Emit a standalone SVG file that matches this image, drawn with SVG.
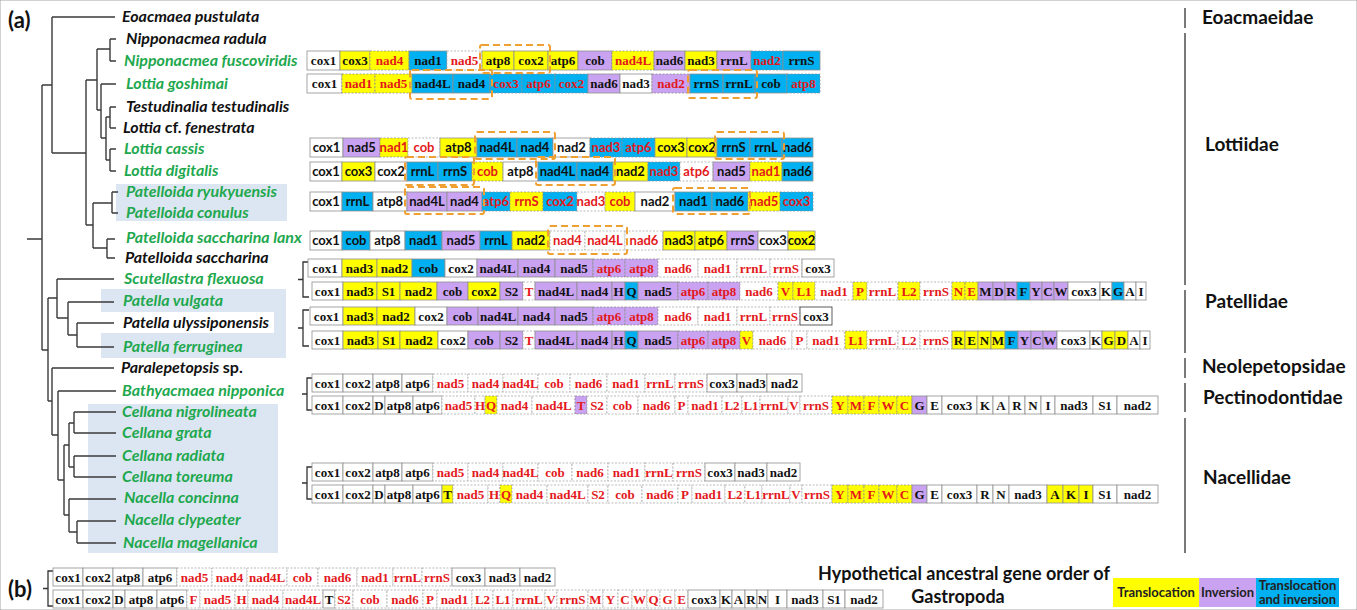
<svg xmlns="http://www.w3.org/2000/svg" width="1357" height="610" viewBox="0 0 1357 610">
<style>
.tree path{fill:none;stroke:#3a3a3a;stroke-width:1.4}
.tx{font-family:Lato,"Liberation Sans",sans-serif;font-weight:700;font-style:italic;font-size:16px}
.g{fill:#1ea84e}
.k{fill:#111}
.up{font-style:normal}
.fam{font-family:Lato,"Liberation Sans",sans-serif;font-weight:700;font-size:19px;fill:#111}
.lab{font-family:Lato,"Liberation Sans",sans-serif;font-weight:700;font-size:22px;fill:#111}
.gs text{font-family:"Liberation Serif",serif;font-weight:700;font-size:13px;text-anchor:middle;fill:#111}
.gn text{font-family:Lato,"Liberation Sans",sans-serif;font-weight:700;font-size:13px;text-anchor:middle;fill:#111}
text.r{fill:#e3191c}
rect{stroke:#8f8f8f;stroke-width:0.8}
rect.w{fill:#fff}
rect.d{fill:#fff;stroke:#aaa;stroke-dasharray:2 1.5}
rect.y{fill:#ffff00}
rect.p{fill:#c9a2f2}
rect.b{fill:#00b0f0}
rect.z{stroke-dasharray:2 1.5}
.ob{fill:none;stroke:#f0a030;stroke-width:2;stroke-dasharray:7 4}
.hl{fill:#dce6f2;stroke:none}
.hw{fill:#fff;stroke:none}
.br{fill:none;stroke:#333;stroke-width:1.3}
.sep{stroke:#333;stroke-width:1.3}
.hd{font-family:Lato,"Liberation Sans",sans-serif;font-weight:700;font-size:18px;fill:#111}
.lg text{font-family:Lato,"Liberation Sans",sans-serif;font-weight:700;font-size:13px;fill:#222;text-anchor:middle}
.lg rect{stroke:none}
</style>

<rect x="0" y="0" width="1357" height="610" fill="#fff" stroke="none"/>

<!-- shaded clades behind the taxon names -->
<g id="highlights">
  <rect class="hl" x="116" y="184" width="171" height="37"/>
  <rect class="hl" x="101" y="289" width="185" height="69"/>
  <rect class="hw" x="101" y="312" width="173" height="21"/>
  <rect class="hl" x="88" y="404" width="190" height="149"/>
</g>

<text class="lab" x="8" y="28">(a)</text>
<text class="lab" x="8" y="597">(b)</text>

<!-- phylogeny branches -->
<g id="connectors" class="tree">
  <path d="M27 239H42M42 85V350M42 85H52M42 350H48"/>
  <path d="M52 17V153M52 17H115M52 153H86"/>
  <path d="M86 80V225M86 80H97M86 225H93"/>
  <path d="M97 49V110M97 49H110M97 110H101"/>
  <path d="M110 39V61M110 39H116M110 61H116"/>
  <path d="M101 84V138M101 84H116M101 138H106"/>
  <path d="M106 117V160M106 117H110M106 160H110"/>
  <path d="M110 107V128M110 107H116M110 128H116"/>
  <path d="M110 149V171M110 149H116M110 171H116"/>
  <path d="M93 203V248M93 203H112M93 248H107"/>
  <path d="M112 192V213M112 192H118M112 213H118"/>
  <path d="M107 239V258M107 239H115M107 258H115"/>
  <path d="M48 298V401M48 298H57M48 401H52"/>
  <path d="M57 279V318M57 279H114M57 318H68"/>
  <path d="M68 302V335M68 302H114M68 335H77"/>
  <path d="M77 323V347M77 323H114M77 347H114"/>
  <path d="M52 368V435M52 368H114M52 435H58"/>
  <path d="M58 391V480M58 391H116M58 480H64"/>
  <path d="M64 445V515M64 445H69M64 515H69"/>
  <path d="M69 423V467M69 423H74M69 467H74"/>
  <path d="M74 412V433M74 412H116M74 433H116"/>
  <path d="M74 456V477M74 456H116M74 477H116"/>
  <path d="M69 499V532M69 499H116M69 532H77"/>
  <path d="M77 521V543M77 521H116M77 543H116"/>
</g>

<!-- taxa -->
<g id="taxa" class="tx">
  <g id="t-eoacmaea-pustulata"><text class="k" x="122" y="22">Eoacmaea pustulata</text></g>
  <g id="t-nipponacmea-radula"><text class="k" x="126" y="44">Nipponacmea radula</text></g>
  <g id="t-nipponacmea-fuscoviridis"><text class="g" x="124" y="66">Nipponacmea fuscoviridis</text></g>
  <g id="t-lottia-goshimai"><text class="g" x="126" y="89">Lottia goshimai</text></g>
  <g id="t-testudinalia-testudinalis"><text class="k" x="126" y="112">Testudinalia testudinalis</text></g>
  <g id="t-lottia-fenestrata"><text class="k" x="123" y="133">Lottia <tspan class="up">cf.</tspan> fenestrata</text></g>
  <g id="t-lottia-cassis"><text class="g" x="124" y="154">Lottia cassis</text></g>
  <g id="t-lottia-digitalis"><text class="g" x="124" y="176">Lottia digitalis</text></g>
  <g id="t-patelloida-ryukyuensis"><text class="g" x="126" y="197">Patelloida ryukyuensis</text></g>
  <g id="t-patelloida-conulus"><text class="g" x="126" y="218">Patelloida conulus</text></g>
  <g id="t-patelloida-saccharina-lanx"><text class="g" x="126" y="243">Patelloida saccharina lanx</text></g>
  <g id="t-patelloida-saccharina"><text class="k" x="125" y="263">Patelloida saccharina</text></g>
  <g id="t-scutellastra-flexuosa"><text class="g" x="124" y="284">Scutellastra flexuosa</text></g>
  <g id="t-patella-vulgata"><text class="g" x="123" y="306">Patella vulgata</text></g>
  <g id="t-patella-ulyssiponensis"><text class="k" x="123" y="328">Patella ulyssiponensis</text></g>
  <g id="t-patella-ferruginea"><text class="g" x="123" y="352">Patella ferruginea</text></g>
  <g id="t-paralepetopsis"><text class="k" x="121" y="373">Paralepetopsis <tspan class="up">sp.</tspan></text></g>
  <g id="t-bathyacmaea-nipponica"><text class="g" x="122" y="396">Bathyacmaea nipponica</text></g>
  <g id="t-cellana-nigrolineata"><text class="g" x="122" y="417">Cellana nigrolineata</text></g>
  <g id="t-cellana-grata"><text class="g" x="122" y="438">Cellana grata</text></g>
  <g id="t-cellana-radiata"><text class="g" x="122" y="461">Cellana radiata</text></g>
  <g id="t-cellana-toreuma"><text class="g" x="122" y="482">Cellana toreuma</text></g>
  <g id="t-nacella-concinna"><text class="g" x="124" y="503">Nacella concinna</text></g>
  <g id="t-nacella-clypeater"><text class="g" x="124" y="525">Nacella clypeater</text></g>
  <g id="t-nacella-magellanica"><text class="g" x="123" y="548">Nacella magellanica</text></g>
</g>

<!-- Lottiidae gene orders -->
<g id="go-nipponacmea-fuscoviridis" class="gs" transform="translate(0,51)">
  <rect class="w" x="307" width="33" height="19"/><text x="323.5" y="14">cox1</text>
  <rect class="y" x="340" width="30" height="19"/><text x="355" y="14">cox3</text>
  <rect class="y z" x="370" width="39" height="19"/><text class="r" x="389.5" y="14">nad4</text>
  <rect class="b" x="409" width="38" height="19"/><text x="428" y="14">nad1</text>
  <rect class="d" x="447" width="35" height="19"/><text class="r" x="464.5" y="14">nad5</text>
  <rect class="y" x="482" width="32" height="19"/><text x="498" y="14">atp8</text>
  <rect class="y" x="514" width="34" height="19"/><text x="531" y="14">cox2</text>
  <rect class="y" x="548" width="30" height="19"/><text x="563" y="14">atp6</text>
  <rect class="p" x="578" width="34" height="19"/><text x="595" y="14">cob</text>
  <rect class="y z" x="612" width="42" height="19"/><text class="r" x="633" y="14">nad4L</text>
  <rect class="p" x="654" width="31" height="19"/><text x="669.5" y="14">nad6</text>
  <rect class="y" x="685" width="32" height="19"/><text x="701" y="14">nad3</text>
  <rect class="p" x="717" width="34" height="19"/><text x="734" y="14">rrnL</text>
  <rect class="b z" x="751" width="32" height="19"/><text class="r" x="767" y="14">nad2</text>
  <rect class="b" x="783" width="37" height="19"/><text x="801.5" y="14">rrnS</text>
</g>
<g id="go-lottia-goshimai" class="gs" transform="translate(0,74)">
  <rect class="w" x="307" width="35" height="19"/><text x="324.5" y="14">cox1</text>
  <rect class="y z" x="342" width="33" height="19"/><text class="r" x="358.5" y="14">nad1</text>
  <rect class="y z" x="375" width="37" height="19"/><text class="r" x="393.5" y="14">nad5</text>
  <rect class="b" x="412" width="41" height="19"/><text x="432.5" y="14">nad4L</text>
  <rect class="b" x="453" width="37" height="19"/><text x="471.5" y="14">nad4</text>
  <rect class="b z" x="490" width="32" height="19"/><text class="r" x="506" y="14">cox3</text>
  <rect class="b z" x="522" width="33" height="19"/><text class="r" x="538.5" y="14">atp6</text>
  <rect class="b z" x="555" width="33" height="19"/><text class="r" x="571.5" y="14">cox2</text>
  <rect class="p" x="588" width="32" height="19"/><text x="604" y="14">nad6</text>
  <rect class="w" x="620" width="32" height="19"/><text x="636" y="14">nad3</text>
  <rect class="p z" x="652" width="38" height="19"/><text class="r" x="671" y="14">nad2</text>
  <rect class="b" x="690" width="33" height="19"/><text x="706.5" y="14">rrnS</text>
  <rect class="b" x="723" width="32" height="19"/><text x="739" y="14">rrnL</text>
  <rect class="b" x="755" width="32" height="19"/><text x="771" y="14">cob</text>
  <rect class="b z" x="787" width="33" height="19"/><text class="r" x="803.5" y="14">atp8</text>
</g>
<g id="go-lottia-cassis" class="gn" transform="translate(0,138)">
  <rect class="w" x="310" width="33" height="19"/><text x="326.5" y="14">cox1</text>
  <rect class="p" x="343" width="37" height="19"/><text x="361.5" y="14">nad5</text>
  <rect class="y z" x="380" width="28" height="19"/><text class="r" x="394" y="14">nad1</text>
  <rect class="d" x="408" width="32" height="19"/><text class="r" x="424" y="14">cob</text>
  <rect class="y" x="440" width="37" height="19"/><text x="458.5" y="14">atp8</text>
  <rect class="b" x="477" width="40" height="19"/><text x="497" y="14">nad4L</text>
  <rect class="b" x="517" width="36" height="19"/><text x="535" y="14">nad4</text>
  <rect class="w" x="553" width="37" height="19"/><text x="571.5" y="14">nad2</text>
  <rect class="b z" x="590" width="32" height="19"/><text class="r" x="606" y="14">nad3</text>
  <rect class="b z" x="622" width="33" height="19"/><text class="r" x="638.5" y="14">atp6</text>
  <rect class="y" x="655" width="32" height="19"/><text x="671" y="14">cox3</text>
  <rect class="y" x="687" width="30" height="19"/><text x="702" y="14">cox2</text>
  <rect class="b" x="717" width="33" height="19"/><text x="733.5" y="14">rrnS</text>
  <rect class="b" x="750" width="32" height="19"/><text x="766" y="14">rrnL</text>
  <rect class="b" x="782" width="31" height="19"/><text x="797.5" y="14">nad6</text>
</g>
<g id="go-lottia-digitalis" class="gn" transform="translate(0,162)">
  <rect class="w" x="310" width="32" height="19"/><text x="326" y="14">cox1</text>
  <rect class="y" x="342" width="33" height="19"/><text x="358.5" y="14">cox3</text>
  <rect class="w" x="375" width="32" height="19"/><text x="391" y="14">cox2</text>
  <rect class="b" x="407" width="31" height="19"/><text x="422.5" y="14">rrnL</text>
  <rect class="b" x="438" width="34" height="19"/><text x="455" y="14">rrnS</text>
  <rect class="y z" x="472" width="31" height="19"/><text class="r" x="487.5" y="14">cob</text>
  <rect class="w" x="503" width="35" height="19"/><text x="520.5" y="14">atp8</text>
  <rect class="b" x="538" width="39" height="19"/><text x="557.5" y="14">nad4L</text>
  <rect class="b" x="577" width="36" height="19"/><text x="595" y="14">nad4</text>
  <rect class="y" x="613" width="35" height="19"/><text x="630.5" y="14">nad2</text>
  <rect class="b z" x="648" width="32" height="19"/><text class="r" x="664" y="14">nad3</text>
  <rect class="d" x="680" width="33" height="19"/><text class="r" x="696.5" y="14">atp6</text>
  <rect class="p" x="713" width="37" height="19"/><text x="731.5" y="14">nad5</text>
  <rect class="y z" x="750" width="32" height="19"/><text class="r" x="766" y="14">nad1</text>
  <rect class="b" x="782" width="31" height="19"/><text x="797.5" y="14">nad6</text>
</g>
<g id="go-patelloida-ryukyuensis" class="gn" transform="translate(0,192)">
  <rect class="w" x="310" width="32" height="19"/><text x="326" y="14">cox1</text>
  <rect class="b" x="342" width="31" height="19"/><text x="357.5" y="14">rrnL</text>
  <rect class="w" x="373" width="34" height="19"/><text x="390" y="14">atp8</text>
  <rect class="p" x="407" width="40" height="19"/><text x="427" y="14">nad4L</text>
  <rect class="p" x="447" width="35" height="19"/><text x="464.5" y="14">nad4</text>
  <rect class="b z" x="482" width="28" height="19"/><text class="r" x="496" y="14">atp6</text>
  <rect class="y z" x="510" width="33" height="19"/><text class="r" x="526.5" y="14">rrnS</text>
  <rect class="b z" x="543" width="34" height="19"/><text class="r" x="560" y="14">cox2</text>
  <rect class="d" x="577" width="28" height="19"/><text class="r" x="591" y="14">nad3</text>
  <rect class="y z" x="605" width="30" height="19"/><text class="r" x="620" y="14">cob</text>
  <rect class="w" x="635" width="40" height="19"/><text x="655" y="14">nad2</text>
  <rect class="b" x="675" width="37" height="19"/><text x="693.5" y="14">nad1</text>
  <rect class="b" x="712" width="36" height="19"/><text x="730" y="14">nad6</text>
  <rect class="y z" x="748" width="32" height="19"/><text class="r" x="764" y="14">nad5</text>
  <rect class="b z" x="780" width="33" height="19"/><text class="r" x="796.5" y="14">cox3</text>
</g>
<g id="go-patelloida-saccharina-lanx" class="gn" transform="translate(0,231)">
  <rect class="w" x="310" width="32" height="19"/><text x="326" y="14">cox1</text>
  <rect class="b" x="342" width="28" height="19"/><text x="356" y="14">cob</text>
  <rect class="w" x="370" width="35" height="19"/><text x="387.5" y="14">atp8</text>
  <rect class="b" x="405" width="37" height="19"/><text x="423.5" y="14">nad1</text>
  <rect class="p" x="442" width="38" height="19"/><text x="461" y="14">nad5</text>
  <rect class="b" x="480" width="32" height="19"/><text x="496" y="14">rrnL</text>
  <rect class="y" x="512" width="38" height="19"/><text x="531" y="14">nad2</text>
  <rect class="d" x="550" width="35" height="19"/><text class="r" x="567.5" y="14">nad4</text>
  <rect class="d" x="585" width="40" height="19"/><text class="r" x="605" y="14">nad4L</text>
  <rect class="d" x="625" width="38" height="19"/><text class="r" x="644" y="14">nad6</text>
  <rect class="y" x="663" width="32" height="19"/><text x="679" y="14">nad3</text>
  <rect class="y" x="695" width="32" height="19"/><text x="711" y="14">atp6</text>
  <rect class="p" x="727" width="31" height="19"/><text x="742.5" y="14">rrnS</text>
  <rect class="w" x="758" width="30" height="19"/><text x="773" y="14">cox3</text>
  <rect class="y" x="788" width="27" height="19"/><text x="801.5" y="14">cox2</text>
</g>

<!-- rearranged blocks -->
<g id="moved-blocks">
  <rect class="ob" x="480" y="45" width="70" height="28" rx="2"/>
  <rect class="ob" x="410" y="70" width="82" height="29" rx="2"/>
  <rect class="ob" x="688" y="70" width="69" height="28" rx="2"/>
  <rect class="ob" x="475" y="132" width="80" height="27" rx="2"/>
  <rect class="ob" x="715" y="132" width="69" height="27" rx="2"/>
  <rect class="ob" x="405" y="157" width="69" height="28" rx="2"/>
  <rect class="ob" x="536" y="157" width="79" height="28" rx="2"/>
  <rect class="ob" x="405" y="187" width="79" height="27" rx="2"/>
  <rect class="ob" x="673" y="188" width="77" height="26" rx="2"/>
  <rect class="ob" x="548" y="226" width="79" height="28" rx="2"/>
</g>

<!-- Patellidae gene orders -->
<path class="br" d="M309 262H303V297H309M303 279.5H298"/>
<path class="br" d="M309 310H303V346H309M303 328H298"/>
<g id="go-scutellastra-flexuosa" class="gs" transform="translate(0,259)">
  <rect class="w" x="308" width="34" height="18"/><text x="325" y="13.5">cox1</text>
  <rect class="y" x="342" width="35" height="18"/><text x="359.5" y="13.5">nad3</text>
  <rect class="y" x="377" width="35" height="18"/><text x="394.5" y="13.5">nad2</text>
  <rect class="b" x="412" width="33" height="18"/><text x="428.5" y="13.5">cob</text>
  <rect class="w" x="445" width="32" height="18"/><text x="461" y="13.5">cox2</text>
  <rect class="p" x="477" width="41" height="18"/><text x="497.5" y="13.5">nad4L</text>
  <rect class="p" x="518" width="37" height="18"/><text x="536.5" y="13.5">nad4</text>
  <rect class="p" x="555" width="38" height="18"/><text x="574" y="13.5">nad5</text>
  <rect class="p z" x="593" width="32" height="18"/><text class="r" x="609" y="13.5">atp6</text>
  <rect class="p z" x="625" width="33" height="18"/><text class="r" x="641.5" y="13.5">atp8</text>
  <rect class="d" x="658" width="40" height="18"/><text class="r" x="678" y="13.5">nad6</text>
  <rect class="d" x="698" width="39" height="18"/><text class="r" x="717.5" y="13.5">nad1</text>
  <rect class="d" x="737" width="33" height="18"/><text class="r" x="753.5" y="13.5">rrnL</text>
  <rect class="d" x="770" width="32" height="18"/><text class="r" x="786" y="13.5">rrnS</text>
  <rect class="w" x="802" width="32" height="18"/><text x="818" y="13.5">cox3</text>
</g>
<g id="go-patella-vulgata" class="gs" transform="translate(0,282)">
  <rect class="w" x="312" width="31" height="18"/><text x="327.5" y="13.5">cox1</text>
  <rect class="y" x="343" width="34" height="18"/><text x="360" y="13.5">nad3</text>
  <rect class="y" x="377" width="23" height="18"/><text x="388.5" y="13.5">S1</text>
  <rect class="y" x="400" width="37" height="18"/><text x="418.5" y="13.5">nad2</text>
  <rect class="p" x="437" width="31" height="18"/><text x="452.5" y="13.5">cob</text>
  <rect class="y" x="468" width="32" height="18"/><text x="484" y="13.5">cox2</text>
  <rect class="p" x="500" width="23" height="18"/><text x="511.5" y="13.5">S2</text>
  <rect class="d" x="523" width="12" height="18"/><text class="r" x="529" y="13.5">T</text>
  <rect class="p" x="535" width="42" height="18"/><text x="556" y="13.5">nad4L</text>
  <rect class="p" x="577" width="35" height="18"/><text x="594.5" y="13.5">nad4</text>
  <rect class="p" x="612" width="13" height="18"/><text x="618.5" y="13.5">H</text>
  <rect class="b" x="625" width="13" height="18"/><text x="631.5" y="13.5">Q</text>
  <rect class="p" x="638" width="40" height="18"/><text x="658" y="13.5">nad5</text>
  <rect class="p z" x="678" width="30" height="18"/><text class="r" x="693" y="13.5">atp6</text>
  <rect class="p z" x="708" width="32" height="18"/><text class="r" x="724" y="13.5">atp8</text>
  <rect class="d" x="740" width="38" height="18"/><text class="r" x="759" y="13.5">nad6</text>
  <rect class="y z" x="778" width="15" height="18"/><text class="r" x="785.5" y="13.5">V</text>
  <rect class="y z" x="793" width="22" height="18"/><text class="r" x="804" y="13.5">L1</text>
  <rect class="d" x="815" width="38" height="18"/><text class="r" x="834" y="13.5">nad1</text>
  <rect class="y z" x="853" width="14" height="18"/><text class="r" x="860" y="13.5">P</text>
  <rect class="d" x="867" width="31" height="18"/><text class="r" x="882.5" y="13.5">rrnL</text>
  <rect class="y z" x="898" width="22" height="18"/><text class="r" x="909" y="13.5">L2</text>
  <rect class="d" x="920" width="32" height="18"/><text class="r" x="936" y="13.5">rrnS</text>
  <rect class="y z" x="952" width="13" height="18"/><text class="r" x="958.5" y="13.5">N</text>
  <rect class="y z" x="965" width="13" height="18"/><text class="r" x="971.5" y="13.5">E</text>
  <rect class="p" x="978" width="15" height="18"/><text x="985.5" y="13.5">M</text>
  <rect class="p" x="993" width="12" height="18"/><text x="999" y="13.5">D</text>
  <rect class="p" x="1005" width="12" height="18"/><text x="1011" y="13.5">R</text>
  <rect class="b" x="1017" width="13" height="18"/><text x="1023.5" y="13.5">F</text>
  <rect class="p" x="1030" width="12" height="18"/><text x="1036" y="13.5">Y</text>
  <rect class="p" x="1042" width="12" height="18"/><text x="1048" y="13.5">C</text>
  <rect class="p" x="1054" width="14" height="18"/><text x="1061" y="13.5">W</text>
  <rect class="w" x="1068" width="32" height="18"/><text x="1084" y="13.5">cox3</text>
  <rect class="w" x="1100" width="12" height="18"/><text x="1106" y="13.5">K</text>
  <rect class="b" x="1112" width="12" height="18"/><text x="1118" y="13.5">G</text>
  <rect class="w" x="1124" width="12" height="18"/><text x="1130" y="13.5">A</text>
  <rect class="w" x="1136" width="10" height="18"/><text x="1141" y="13.5">I</text>
</g>
<g id="go-patella-ulyssiponensis" class="gs" transform="translate(0,307)">
  <rect class="w" x="310" width="33" height="18"/><text x="326.5" y="13.5">cox1</text>
  <rect class="y" x="343" width="34" height="18"/><text x="360" y="13.5">nad3</text>
  <rect class="y" x="377" width="38" height="18"/><text x="396" y="13.5">nad2</text>
  <rect class="w" x="415" width="32" height="18"/><text x="431" y="13.5">cox2</text>
  <rect class="p" x="447" width="31" height="18"/><text x="462.5" y="13.5">cob</text>
  <rect class="p" x="478" width="40" height="18"/><text x="498" y="13.5">nad4L</text>
  <rect class="p" x="518" width="37" height="18"/><text x="536.5" y="13.5">nad4</text>
  <rect class="p" x="555" width="38" height="18"/><text x="574" y="13.5">nad5</text>
  <rect class="p z" x="593" width="32" height="18"/><text class="r" x="609" y="13.5">atp6</text>
  <rect class="p z" x="625" width="33" height="18"/><text class="r" x="641.5" y="13.5">atp8</text>
  <rect class="d" x="658" width="40" height="18"/><text class="r" x="678" y="13.5">nad6</text>
  <rect class="d" x="698" width="39" height="18"/><text class="r" x="717.5" y="13.5">nad1</text>
  <rect class="d" x="737" width="33" height="18"/><text class="r" x="753.5" y="13.5">rrnL</text>
  <rect class="d" x="770" width="30" height="18"/><text class="r" x="785" y="13.5">rrnS</text>
  <rect class="w" x="800" width="32" height="18" style="stroke:#333"/><text x="816" y="13.5">cox3</text>
</g>
<g id="go-patella-ferruginea" class="gs" transform="translate(0,331)">
  <rect class="w" x="312" width="31" height="18"/><text x="327.5" y="13.5">cox1</text>
  <rect class="y" x="343" width="35" height="18"/><text x="360.5" y="13.5">nad3</text>
  <rect class="y" x="378" width="22" height="18"/><text x="389" y="13.5">S1</text>
  <rect class="y" x="400" width="38" height="18"/><text x="419" y="13.5">nad2</text>
  <rect class="w" x="438" width="30" height="18"/><text x="453" y="13.5">cox2</text>
  <rect class="p" x="468" width="32" height="18"/><text x="484" y="13.5">cob</text>
  <rect class="p" x="500" width="23" height="18"/><text x="511.5" y="13.5">S2</text>
  <rect class="d" x="523" width="12" height="18"/><text class="r" x="529" y="13.5">T</text>
  <rect class="p" x="535" width="42" height="18"/><text x="556" y="13.5">nad4L</text>
  <rect class="p" x="577" width="35" height="18"/><text x="594.5" y="13.5">nad4</text>
  <rect class="p" x="612" width="13" height="18"/><text x="618.5" y="13.5">H</text>
  <rect class="b" x="625" width="13" height="18"/><text x="631.5" y="13.5">Q</text>
  <rect class="p" x="638" width="40" height="18"/><text x="658" y="13.5">nad5</text>
  <rect class="p z" x="678" width="30" height="18"/><text class="r" x="693" y="13.5">atp6</text>
  <rect class="p z" x="708" width="32" height="18"/><text class="r" x="724" y="13.5">atp8</text>
  <rect class="y z" x="740" width="13" height="18"/><text class="r" x="746.5" y="13.5">V</text>
  <rect class="d" x="753" width="39" height="18"/><text class="r" x="772.5" y="13.5">nad6</text>
  <rect class="d" x="792" width="15" height="18"/><text class="r" x="799.5" y="13.5">P</text>
  <rect class="d" x="807" width="38" height="18"/><text class="r" x="826" y="13.5">nad1</text>
  <rect class="y z" x="845" width="22" height="18"/><text class="r" x="856" y="13.5">L1</text>
  <rect class="d" x="867" width="31" height="18"/><text class="r" x="882.5" y="13.5">rrnL</text>
  <rect class="d" x="898" width="22" height="18"/><text class="r" x="909" y="13.5">L2</text>
  <rect class="d" x="920" width="32" height="18"/><text class="r" x="936" y="13.5">rrnS</text>
  <rect class="y" x="952" width="13" height="18"/><text x="958.5" y="13.5">R</text>
  <rect class="y" x="965" width="13" height="18"/><text x="971.5" y="13.5">E</text>
  <rect class="y" x="978" width="13" height="18"/><text x="984.5" y="13.5">N</text>
  <rect class="y" x="991" width="14" height="18"/><text x="998" y="13.5">M</text>
  <rect class="b" x="1005" width="13" height="18"/><text x="1011.5" y="13.5">F</text>
  <rect class="p" x="1018" width="13" height="18"/><text x="1024.5" y="13.5">Y</text>
  <rect class="p" x="1031" width="12" height="18"/><text x="1037" y="13.5">C</text>
  <rect class="p" x="1043" width="14" height="18"/><text x="1050" y="13.5">W</text>
  <rect class="w" x="1057" width="33" height="18"/><text x="1073.5" y="13.5">cox3</text>
  <rect class="w" x="1090" width="12" height="18"/><text x="1096" y="13.5">K</text>
  <rect class="y" x="1102" width="13" height="18"/><text x="1108.5" y="13.5">G</text>
  <rect class="y" x="1115" width="13" height="18"/><text x="1121.5" y="13.5">D</text>
  <rect class="w" x="1128" width="12" height="18"/><text x="1134" y="13.5">A</text>
  <rect class="w" x="1140" width="10" height="18"/><text x="1145" y="13.5">I</text>
</g>

<!-- Pectinodontidae gene orders -->
<path class="br" d="M313 378H307V410H313M307 394H302"/>
<g id="go-bathyacmaea-mt" class="gs" transform="translate(0,374)">
  <rect class="w" x="312" width="31" height="18"/><text x="327.5" y="13.5">cox1</text>
  <rect class="w" x="343" width="30" height="18"/><text x="358" y="13.5">cox2</text>
  <rect class="w" x="373" width="29" height="18"/><text x="387.5" y="13.5">atp8</text>
  <rect class="w" x="402" width="31" height="18"/><text x="417.5" y="13.5">atp6</text>
  <rect class="d" x="433" width="35" height="18"/><text class="r" x="450.5" y="13.5">nad5</text>
  <rect class="d" x="468" width="35" height="18"/><text class="r" x="485.5" y="13.5">nad4</text>
  <rect class="d" x="503" width="35" height="18"/><text class="r" x="520.5" y="13.5">nad4L</text>
  <rect class="d" x="538" width="32" height="18"/><text class="r" x="554" y="13.5">cob</text>
  <rect class="d" x="570" width="37" height="18"/><text class="r" x="588.5" y="13.5">nad6</text>
  <rect class="d" x="607" width="38" height="18"/><text class="r" x="626" y="13.5">nad1</text>
  <rect class="d" x="645" width="30" height="18"/><text class="r" x="660" y="13.5">rrnL</text>
  <rect class="d" x="675" width="32" height="18"/><text class="r" x="691" y="13.5">rrnS</text>
  <rect class="w" x="707" width="30" height="18"/><text x="722" y="13.5">cox3</text>
  <rect class="w" x="737" width="30" height="18"/><text x="752" y="13.5">nad3</text>
  <rect class="w" x="767" width="35" height="18"/><text x="784.5" y="13.5">nad2</text>
</g>
<g id="go-bathyacmaea-full" class="gs" transform="translate(0,396)">
  <rect class="w" x="312" width="31" height="18"/><text x="327.5" y="13.5">cox1</text>
  <rect class="w" x="343" width="30" height="18"/><text x="358" y="13.5">cox2</text>
  <rect class="w" x="373" width="12" height="18"/><text x="379" y="13.5">D</text>
  <rect class="w" x="385" width="28" height="18"/><text x="399" y="13.5">atp8</text>
  <rect class="w" x="413" width="29" height="18"/><text x="427.5" y="13.5">atp6</text>
  <rect class="d" x="442" width="33" height="18"/><text class="r" x="458.5" y="13.5">nad5</text>
  <rect class="d" x="475" width="10" height="18"/><text class="r" x="480" y="13.5">H</text>
  <rect class="y z" x="485" width="12" height="18"/><text class="r" x="491" y="13.5">Q</text>
  <rect class="d" x="497" width="35" height="18"/><text class="r" x="514.5" y="13.5">nad4</text>
  <rect class="d" x="532" width="43" height="18"/><text class="r" x="553.5" y="13.5">nad4L</text>
  <rect class="p z" x="575" width="12" height="18"/><text class="r" x="581" y="13.5">T</text>
  <rect class="d" x="587" width="20" height="18"/><text class="r" x="597" y="13.5">S2</text>
  <rect class="d" x="607" width="31" height="18"/><text class="r" x="622.5" y="13.5">cob</text>
  <rect class="d" x="638" width="37" height="18"/><text class="r" x="656.5" y="13.5">nad6</text>
  <rect class="d" x="675" width="13" height="18"/><text class="r" x="681.5" y="13.5">P</text>
  <rect class="d" x="688" width="34" height="18"/><text class="r" x="705" y="13.5">nad1</text>
  <rect class="d" x="722" width="20" height="18"/><text class="r" x="732" y="13.5">L2</text>
  <rect class="d" x="742" width="18" height="18"/><text class="r" x="751" y="13.5">L1</text>
  <rect class="d" x="760" width="28" height="18"/><text class="r" x="774" y="13.5">rrnL</text>
  <rect class="d" x="788" width="12" height="18"/><text class="r" x="794" y="13.5">V</text>
  <rect class="d" x="800" width="32" height="18"/><text class="r" x="816" y="13.5">rrnS</text>
  <rect class="y z" x="832" width="16" height="18"/><text class="r" x="840" y="13.5">Y</text>
  <rect class="y z" x="848" width="16" height="18"/><text class="r" x="856" y="13.5">M</text>
  <rect class="y z" x="864" width="15" height="18"/><text class="r" x="871.5" y="13.5">F</text>
  <rect class="y z" x="879" width="18" height="18"/><text class="r" x="888" y="13.5">W</text>
  <rect class="y z" x="897" width="15" height="18"/><text class="r" x="904.5" y="13.5">C</text>
  <rect class="p" x="912" width="15" height="18"/><text x="919.5" y="13.5">G</text>
  <rect class="w" x="927" width="15" height="18"/><text x="934.5" y="13.5">E</text>
  <rect class="w" x="942" width="35" height="18"/><text x="959.5" y="13.5">cox3</text>
  <rect class="w" x="977" width="16" height="18"/><text x="985" y="13.5">K</text>
  <rect class="w" x="993" width="16" height="18"/><text x="1001" y="13.5">A</text>
  <rect class="w" x="1009" width="16" height="18"/><text x="1017" y="13.5">R</text>
  <rect class="w" x="1025" width="16" height="18"/><text x="1033" y="13.5">N</text>
  <rect class="w" x="1041" width="14" height="18"/><text x="1048" y="13.5">I</text>
  <rect class="w" x="1055" width="38" height="18"/><text x="1074" y="13.5">nad3</text>
  <rect class="w" x="1093" width="24" height="18"/><text x="1105" y="13.5">S1</text>
  <rect class="w" x="1117" width="41" height="18"/><text x="1137.5" y="13.5">nad2</text>
</g>

<!-- Nacellidae gene orders -->
<path class="br" d="M313 467H307V499H313M307 483H302"/>
<g id="go-nacellidae-mt" class="gs" transform="translate(0,463)">
  <rect class="w" x="312" width="31" height="18"/><text x="327.5" y="13.5">cox1</text>
  <rect class="w" x="343" width="30" height="18"/><text x="358" y="13.5">cox2</text>
  <rect class="w" x="373" width="29" height="18"/><text x="387.5" y="13.5">atp8</text>
  <rect class="w" x="402" width="31" height="18"/><text x="417.5" y="13.5">atp6</text>
  <rect class="d" x="433" width="35" height="18"/><text class="r" x="450.5" y="13.5">nad5</text>
  <rect class="d" x="468" width="35" height="18"/><text class="r" x="485.5" y="13.5">nad4</text>
  <rect class="d" x="503" width="35" height="18"/><text class="r" x="520.5" y="13.5">nad4L</text>
  <rect class="d" x="538" width="34" height="18"/><text class="r" x="555" y="13.5">cob</text>
  <rect class="d" x="572" width="36" height="18"/><text class="r" x="590" y="13.5">nad6</text>
  <rect class="d" x="608" width="37" height="18"/><text class="r" x="626.5" y="13.5">nad1</text>
  <rect class="d" x="645" width="28" height="18"/><text class="r" x="659" y="13.5">rrnL</text>
  <rect class="d" x="673" width="32" height="18"/><text class="r" x="689" y="13.5">rrnS</text>
  <rect class="w" x="705" width="30" height="18"/><text x="720" y="13.5">cox3</text>
  <rect class="w" x="735" width="32" height="18"/><text x="751" y="13.5">nad3</text>
  <rect class="w" x="767" width="33" height="18"/><text x="783.5" y="13.5">nad2</text>
</g>
<g id="go-nacellidae-full" class="gs" transform="translate(0,485)">
  <rect class="w" x="312" width="31" height="18"/><text x="327.5" y="13.5">cox1</text>
  <rect class="w" x="343" width="30" height="18"/><text x="358" y="13.5">cox2</text>
  <rect class="w" x="373" width="12" height="18"/><text x="379" y="13.5">D</text>
  <rect class="w" x="385" width="28" height="18"/><text x="399" y="13.5">atp8</text>
  <rect class="w" x="413" width="29" height="18"/><text x="427.5" y="13.5">atp6</text>
  <rect class="y" x="442" width="11" height="18"/><text x="447.5" y="13.5">T</text>
  <rect class="d" x="453" width="35" height="18"/><text class="r" x="470.5" y="13.5">nad5</text>
  <rect class="d" x="488" width="12" height="18"/><text class="r" x="494" y="13.5">H</text>
  <rect class="y z" x="500" width="12" height="18"/><text class="r" x="506" y="13.5">Q</text>
  <rect class="d" x="512" width="35" height="18"/><text class="r" x="529.5" y="13.5">nad4</text>
  <rect class="d" x="547" width="41" height="18"/><text class="r" x="567.5" y="13.5">nad4L</text>
  <rect class="d" x="588" width="20" height="18"/><text class="r" x="598" y="13.5">S2</text>
  <rect class="d" x="608" width="34" height="18"/><text class="r" x="625" y="13.5">cob</text>
  <rect class="d" x="642" width="36" height="18"/><text class="r" x="660" y="13.5">nad6</text>
  <rect class="d" x="678" width="14" height="18"/><text class="r" x="685" y="13.5">P</text>
  <rect class="d" x="692" width="33" height="18"/><text class="r" x="708.5" y="13.5">nad1</text>
  <rect class="d" x="725" width="20" height="18"/><text class="r" x="735" y="13.5">L2</text>
  <rect class="d" x="745" width="17" height="18"/><text class="r" x="753.5" y="13.5">L1</text>
  <rect class="d" x="762" width="28" height="18"/><text class="r" x="776" y="13.5">rrnL</text>
  <rect class="d" x="790" width="12" height="18"/><text class="r" x="796" y="13.5">V</text>
  <rect class="d" x="802" width="30" height="18"/><text class="r" x="817" y="13.5">rrnS</text>
  <rect class="y z" x="832" width="16" height="18"/><text class="r" x="840" y="13.5">Y</text>
  <rect class="y z" x="848" width="16" height="18"/><text class="r" x="856" y="13.5">M</text>
  <rect class="y z" x="864" width="15" height="18"/><text class="r" x="871.5" y="13.5">F</text>
  <rect class="y z" x="879" width="18" height="18"/><text class="r" x="888" y="13.5">W</text>
  <rect class="y z" x="897" width="15" height="18"/><text class="r" x="904.5" y="13.5">C</text>
  <rect class="p" x="912" width="15" height="18"/><text x="919.5" y="13.5">G</text>
  <rect class="w" x="927" width="15" height="18"/><text x="934.5" y="13.5">E</text>
  <rect class="w" x="942" width="35" height="18"/><text x="959.5" y="13.5">cox3</text>
  <rect class="w" x="977" width="16" height="18"/><text x="985" y="13.5">R</text>
  <rect class="w" x="993" width="16" height="18"/><text x="1001" y="13.5">N</text>
  <rect class="w" x="1009" width="38" height="18"/><text x="1028" y="13.5">nad3</text>
  <rect class="y" x="1047" width="16" height="18"/><text x="1055" y="13.5">A</text>
  <rect class="y" x="1063" width="16" height="18"/><text x="1071" y="13.5">K</text>
  <rect class="y" x="1079" width="14" height="18"/><text x="1086" y="13.5">I</text>
  <rect class="w" x="1093" width="24" height="18"/><text x="1105" y="13.5">S1</text>
  <rect class="w" x="1117" width="41" height="18"/><text x="1137.5" y="13.5">nad2</text>
</g>

<!-- family labels -->
<g id="families">
  <path class="sep" d="M1185 8V28M1185 33V285M1185 290V353M1185 358V378M1185 383V412M1185 418V553"/>
  <g id="f-eoacmaeidae"><text class="fam" x="1202" y="24">Eoacmaeidae</text></g>
  <g id="f-lottiidae"><text class="fam" x="1205" y="151">Lottiidae</text></g>
  <g id="f-patellidae"><text class="fam" x="1205" y="308">Patellidae</text></g>
  <g id="f-neolepetopsidae"><text class="fam" x="1202" y="373">Neolepetopsidae</text></g>
  <g id="f-pectinodontidae"><text class="fam" x="1203" y="404">Pectinodontidae</text></g>
  <g id="f-nacellidae"><text class="fam" x="1203" y="484">Nacellidae</text></g>
</g>

<!-- (b) ancestral order -->
<path class="br" d="M54 571H48V606H54M48 588.5H43"/>
<g id="go-ancestral-mt" class="gs" transform="translate(0,568)">
  <rect class="w" x="53" width="30" height="18"/><text x="68" y="13.5">cox1</text>
  <rect class="w" x="83" width="30" height="18"/><text x="98" y="13.5">cox2</text>
  <rect class="w" x="113" width="30" height="18"/><text x="128" y="13.5">atp8</text>
  <rect class="w" x="143" width="34" height="18"/><text x="160" y="13.5">atp6</text>
  <rect class="d" x="177" width="35" height="18"/><text class="r" x="194.5" y="13.5">nad5</text>
  <rect class="d" x="212" width="35" height="18"/><text class="r" x="229.5" y="13.5">nad4</text>
  <rect class="d" x="247" width="40" height="18"/><text class="r" x="267" y="13.5">nad4L</text>
  <rect class="d" x="287" width="31" height="18"/><text class="r" x="302.5" y="13.5">cob</text>
  <rect class="d" x="318" width="39" height="18"/><text class="r" x="337.5" y="13.5">nad6</text>
  <rect class="d" x="357" width="36" height="18"/><text class="r" x="375" y="13.5">nad1</text>
  <rect class="d" x="393" width="29" height="18"/><text class="r" x="407.5" y="13.5">rrnL</text>
  <rect class="d" x="422" width="30" height="18"/><text class="r" x="437" y="13.5">rrnS</text>
  <rect class="w" x="452" width="33" height="18"/><text x="468.5" y="13.5">cox3</text>
  <rect class="w" x="485" width="35" height="18"/><text x="502.5" y="13.5">nad3</text>
  <rect class="w" x="520" width="35" height="18"/><text x="537.5" y="13.5">nad2</text>
</g>
<g id="go-ancestral-full" class="gs" transform="translate(0,590)">
  <rect class="w" x="53" width="30" height="18"/><text x="68" y="13.5">cox1</text>
  <rect class="w" x="83" width="30" height="18"/><text x="98" y="13.5">cox2</text>
  <rect class="w" x="113" width="12" height="18"/><text x="119" y="13.5">D</text>
  <rect class="w" x="125" width="32" height="18"/><text x="141" y="13.5">atp8</text>
  <rect class="w" x="157" width="30" height="18"/><text x="172" y="13.5">atp6</text>
  <rect class="d" x="187" width="13" height="18"/><text class="r" x="193.5" y="13.5">F</text>
  <rect class="d" x="200" width="35" height="18"/><text class="r" x="217.5" y="13.5">nad5</text>
  <rect class="d" x="235" width="13" height="18"/><text class="r" x="241.5" y="13.5">H</text>
  <rect class="d" x="248" width="35" height="18"/><text class="r" x="265.5" y="13.5">nad4</text>
  <rect class="d" x="283" width="40" height="18"/><text class="r" x="303" y="13.5">nad4L</text>
  <rect class="w" x="323" width="12" height="18"/><text x="329" y="13.5">T</text>
  <rect class="d" x="335" width="18" height="18"/><text class="r" x="344" y="13.5">S2</text>
  <rect class="d" x="353" width="34" height="18"/><text class="r" x="370" y="13.5">cob</text>
  <rect class="d" x="387" width="36" height="18"/><text class="r" x="405" y="13.5">nad6</text>
  <rect class="d" x="423" width="14" height="18"/><text class="r" x="430" y="13.5">P</text>
  <rect class="d" x="437" width="35" height="18"/><text class="r" x="454.5" y="13.5">nad1</text>
  <rect class="d" x="472" width="21" height="18"/><text class="r" x="482.5" y="13.5">L2</text>
  <rect class="d" x="493" width="20" height="18"/><text class="r" x="503" y="13.5">L1</text>
  <rect class="d" x="513" width="32" height="18"/><text class="r" x="529" y="13.5">rrnL</text>
  <rect class="d" x="545" width="12" height="18"/><text class="r" x="551" y="13.5">V</text>
  <rect class="d" x="557" width="31" height="18"/><text class="r" x="572.5" y="13.5">rrnS</text>
  <rect class="d" x="588" width="15" height="18"/><text class="r" x="595.5" y="13.5">M</text>
  <rect class="d" x="603" width="15" height="18"/><text class="r" x="610.5" y="13.5">Y</text>
  <rect class="d" x="618" width="14" height="18"/><text class="r" x="625" y="13.5">C</text>
  <rect class="d" x="632" width="15" height="18"/><text class="r" x="639.5" y="13.5">W</text>
  <rect class="d" x="647" width="13" height="18"/><text class="r" x="653.5" y="13.5">Q</text>
  <rect class="d" x="660" width="15" height="18"/><text class="r" x="667.5" y="13.5">G</text>
  <rect class="d" x="675" width="13" height="18"/><text class="r" x="681.5" y="13.5">E</text>
  <rect class="w" x="688" width="32" height="18"/><text x="704" y="13.5">cox3</text>
  <rect class="w" x="720" width="12" height="18"/><text x="726" y="13.5">K</text>
  <rect class="w" x="732" width="13" height="18"/><text x="738.5" y="13.5">A</text>
  <rect class="w" x="745" width="12" height="18"/><text x="751" y="13.5">R</text>
  <rect class="w" x="757" width="11" height="18"/><text x="762.5" y="13.5">N</text>
  <rect class="w" x="768" width="19" height="18"/><text x="777.5" y="13.5">I</text>
  <rect class="w" x="787" width="36" height="18"/><text x="805" y="13.5">nad3</text>
  <rect class="w" x="823" width="22" height="18"/><text x="834" y="13.5">S1</text>
  <rect class="w" x="845" width="38" height="18"/><text x="864" y="13.5">nad2</text>
</g>
<g id="ancestral-title">
  <text class="hd" x="964" y="580" text-anchor="middle">Hypothetical ancestral gene order of</text>
  <text class="hd" x="958" y="603" text-anchor="middle">Gastropoda</text>
</g>

<!-- legend -->
<g id="legend" class="lg">
  <rect x="1113" y="578" width="86" height="29" fill="#ffff00"/>
  <rect x="1199" y="578" width="57" height="29" fill="#c9a2f2"/>
  <rect x="1256" y="578" width="83" height="29" fill="#00b0f0"/>
  <text x="1156" y="597">Translocation</text>
  <text x="1227.5" y="597">Inversion</text>
  <text x="1297.5" y="590">Translocation</text>
  <text x="1297.5" y="604">and inversion</text>
</g>
</svg>
